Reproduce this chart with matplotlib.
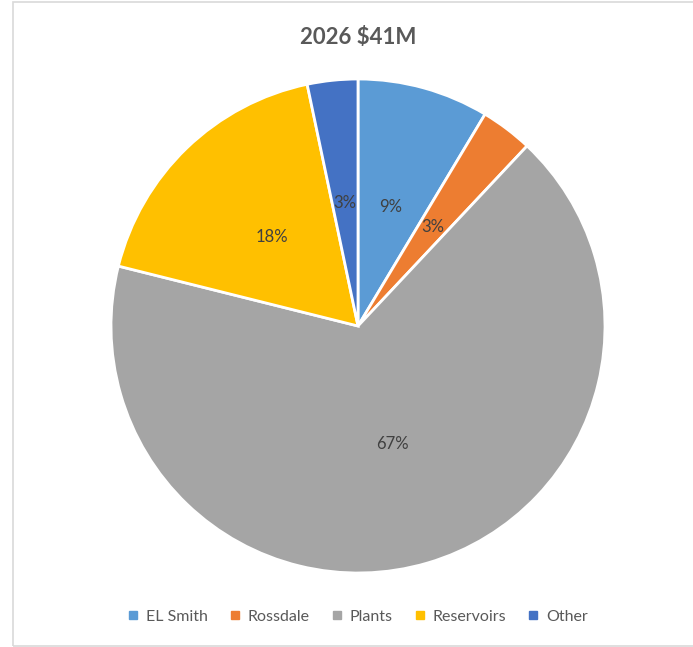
import matplotlib.pyplot as plt
from matplotlib.patches import Rectangle

# data
labels = ['EL Smith', 'Rossdale', 'Plants', 'Reservoirs', 'Other']
values = [8.6, 3.4, 66.9, 17.8, 3.3]
colors = ['#5B9BD5', '#ED7D31', '#A5A5A5', '#FFC000', '#4472C4']

plt.rcParams['font.family'] = ['Lato', 'DejaVu Sans']

W, H = 693, 647
fig = plt.figure(figsize=(W / 100, H / 100), dpi=100)

# chart border (right edge is cut off in the original)
fig.patches.append(Rectangle((13 / W, 1 / H), 1.0, 644 / H, transform=fig.transFigure,
                             fill=False, edgecolor='#d9d9d9', linewidth=1.2))

# pie centred at (358, 326) px, radius 247 px
cx, cy, r = 358, 326, 247
ax = fig.add_axes([(cx - r) / W, 1 - (cy + r) / H, 2 * r / W, 2 * r / H])
wedges, texts, autotexts = ax.pie(values, colors=colors, startangle=90, counterclock=False,
                                  autopct='%1.0f%%', pctdistance=0.5, radius=1,
                                  wedgeprops=dict(edgecolor='white', linewidth=2))
for t in autotexts:
    t.set_color('#404040')
    t.set_fontsize(12)
ax.set_xlim(-1, 1)
ax.set_ylim(-1, 1)
ax.set_aspect('auto')
ax.axis('off')

fig.text(cx / W, 1 - 38 / H, '2026 $41M', ha='center', va='center',
         fontsize=16, fontweight='bold', color='#595959')

handles = [plt.Line2D([], [], marker='s', linestyle='none', markersize=6,
                      markerfacecolor=c, markeredgecolor=c) for c in colors]
fig.legend(handles, labels, loc='center', bbox_to_anchor=(cx / W, 1 - 617 / H), ncol=5,
           frameon=False, fontsize=11.5, labelcolor='#595959', handlelength=0.6,
           handletextpad=0.5, columnspacing=1.4)

plt.savefig('out.png', dpi=100)
